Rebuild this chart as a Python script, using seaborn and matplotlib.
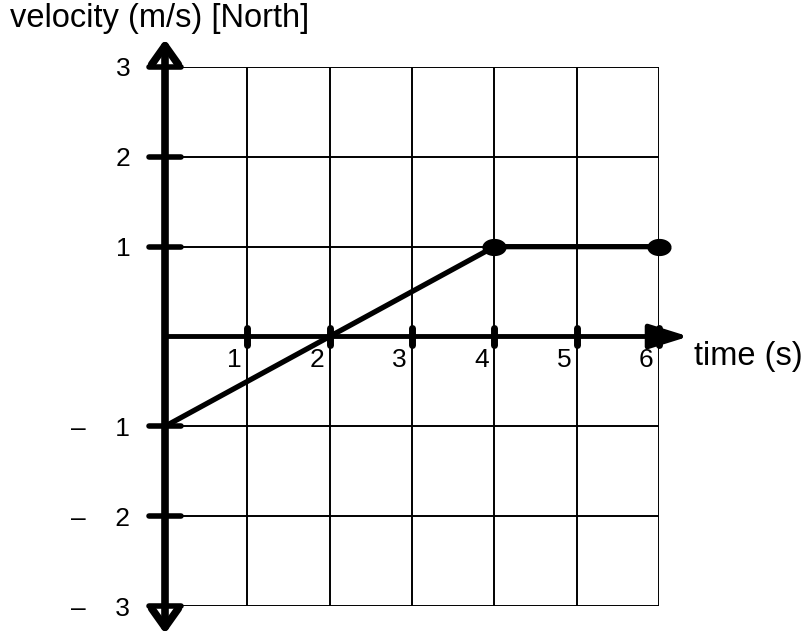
import numpy as np
import matplotlib
matplotlib.use("Agg")
from matplotlib import pyplot as plt
from matplotlib.path import Path
import seaborn as sb
import pandas as pd

# velocity-time data
time_s = [0, 4, 6]
velocity = [-1, 1, 1]
dot_time = [4, 6]
dot_vel = [1, 1]

x_ticks = [1, 2, 3, 4, 5, 6]
x_labels = ['1', '2', '3', '4', '5', '6']
y_ticks = [-3, -2, -1, 0, 1, 2, 3]
y_labels = ['–    3', '–    2', '–    1', '', '1', '2', '3']

sb.set_style('white')
plt.rcParams['font.family'] = ['Liberation Sans', 'DejaVu Sans']
plt.rcParams['text.color'] = 'black'

fig = plt.figure(figsize=(8.09, 6.37), dpi=100)
ax = fig.add_axes([165 / 809, 1 - 606 / 637, 494 / 809, 539 / 637])

ax.set_xlim(0, 6)
ax.set_ylim(-3, 3)
ax.set_xticks(range(0, 7))
ax.set_xticklabels([])
ax.set_yticks(y_ticks)
ax.set_yticklabels(y_labels, fontsize=19, color='black')
ax.tick_params(axis='both', length=0)
ax.tick_params(axis='y', pad=25)
ax.grid(True, color='black', lw=1.4)
for sp in ax.spines.values():
    sp.set_visible(False)

# axes with arrows
ax.annotate('', xy=(0, 3.31), xytext=(0, -3.31),
            arrowprops=dict(arrowstyle='<->,head_length=0.45,head_width=0.32',
                            lw=5.5, color='black', mutation_scale=30,
                            shrinkA=0, shrinkB=0), annotation_clip=False)
ax.annotate('', xy=(6.36, 0), xytext=(0, 0),
            arrowprops=dict(arrowstyle='-|>,head_length=0.8,head_width=0.25',
                            lw=3.5, color='black', mutation_scale=30,
                            shrinkA=0, shrinkB=0), annotation_clip=False)

# tick marks on the axes
ax.hlines([t for t in y_ticks if t != 0], -0.19, 0.19, color='black', lw=4,
          capstyle='round', clip_on=False, zorder=4)
ax.vlines(x_ticks, -0.1, 0.1, color='black', lw=5, capstyle='round', clip_on=False, zorder=4)

for x, lab in zip(x_ticks, x_labels):
    ax.annotate(lab, (x, 0), xytext=(-4, -8), textcoords='offset points',
                ha='right', va='top', fontsize=19, annotation_clip=False)

df = pd.DataFrame({'t': time_s, 'v': velocity})
sb.lineplot(data=df, x='t', y='v', color='black', lw=3.8, ax=ax, zorder=5)

# elliptical dot marker
th = np.linspace(0, 2 * np.pi, 40)
ell = Path(np.column_stack([1.45 * np.cos(th), np.sin(th)]))
sb.scatterplot(x=dot_time, y=dot_vel, marker=ell, s=260, color='black',
               edgecolor='black', ax=ax, zorder=6, clip_on=False)

ax.set_xlabel('')
ax.set_ylabel('')
fig.text(10 / 809, 1 - 18 / 637, 'velocity (m/s) [North]', fontsize=23.5, va='center', ha='left')
ax.text(6.43, -0.22, 'time (s)', fontsize=23.5, va='center', ha='left', clip_on=False)

plt.savefig('out.png', format='png', dpi=100)
plt.close()
